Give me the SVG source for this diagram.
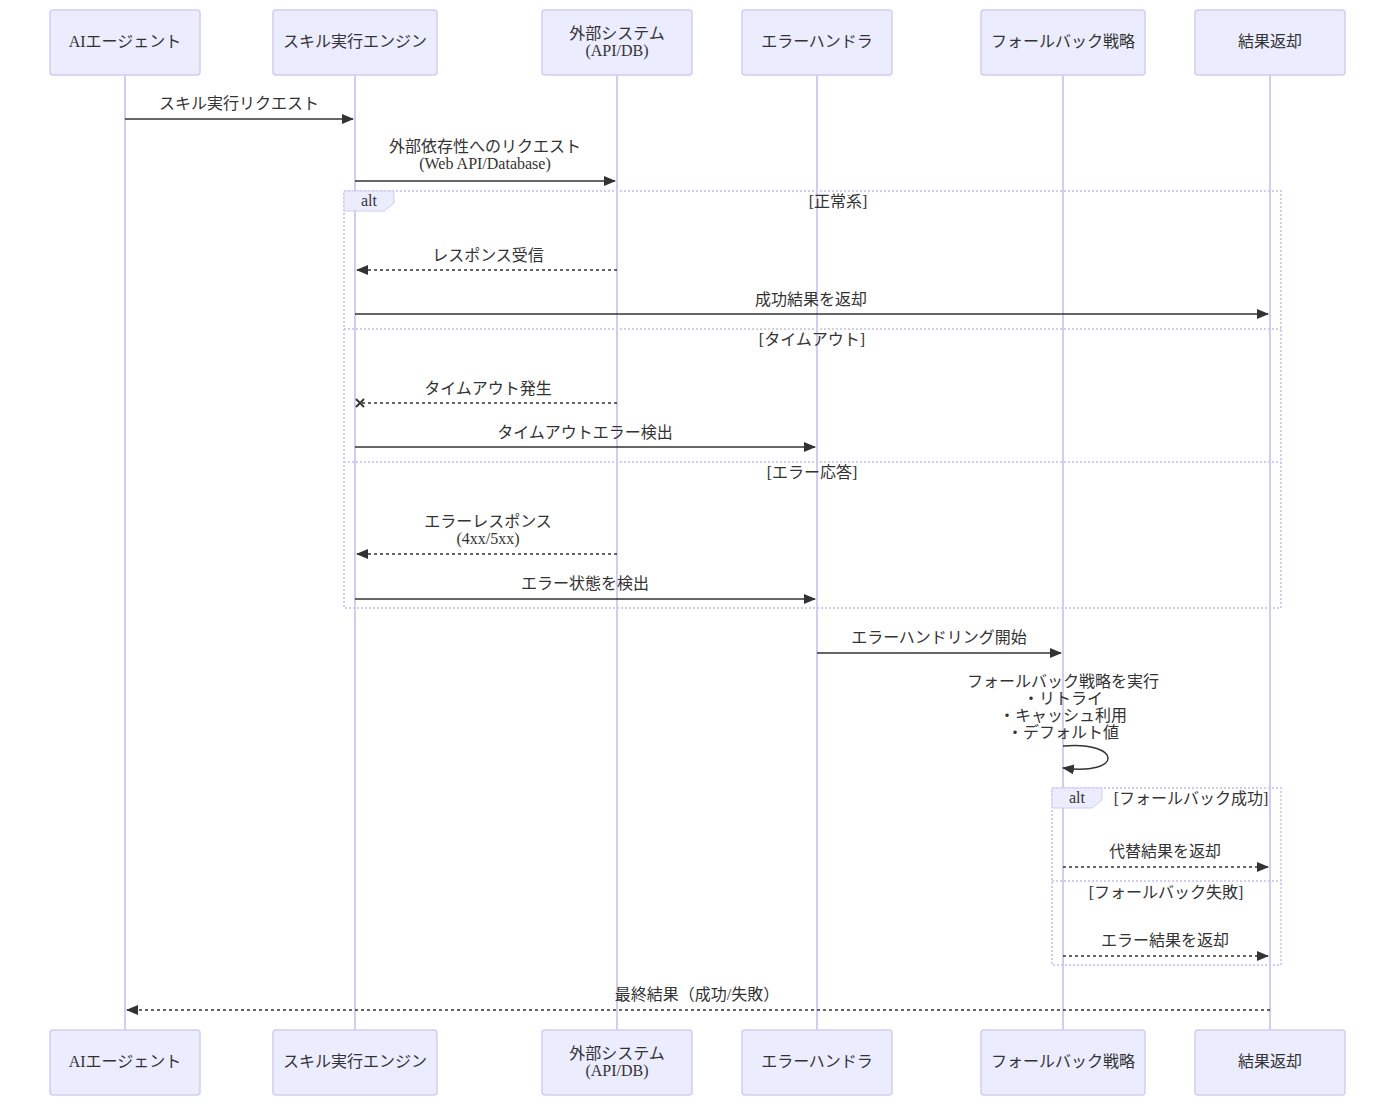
<svg xmlns="http://www.w3.org/2000/svg" width="1395" height="1106" viewBox="0 0 1395 1106">
<style>
text{font-family:"Liberation Serif","Noto Sans CJK JP",serif;font-size:16px;fill:#333;text-anchor:middle;dominant-baseline:middle}
.actor{fill:#ECECFF;stroke:#D3CCF2;stroke-width:1.5}
.life{stroke:#D3CCF2;stroke-width:2}
.msg{stroke:#333;stroke-width:1.5;fill:none}
.dash{stroke-dasharray:3,3}
.frame{fill:none;stroke:#D3CCF2;stroke-width:2;stroke-dasharray:2,2}
.lbl{fill:#ECECFF;stroke:#D3CCF2}
</style>
<defs>
<marker id="ah" viewBox="0 0 12 10" refX="11" refY="5" markerWidth="12" markerHeight="10" orient="auto" markerUnits="userSpaceOnUse"><path d="M0,0L12,5L0,10z" fill="#333"/></marker>
<marker id="cx" viewBox="0 0 10 10" refX="5" refY="5" markerWidth="10" markerHeight="10" orient="auto" markerUnits="userSpaceOnUse"><path d="M1,1L9,9M9,1L1,9" stroke="#333" stroke-width="1.8"/></marker>
</defs>
<g id="lifelines">
<line class="life" x1="125" y1="75" x2="125" y2="1030"/>
<line class="life" x1="355" y1="75" x2="355" y2="1030"/>
<line class="life" x1="617" y1="75" x2="617" y2="1030"/>
<line class="life" x1="817" y1="75" x2="817" y2="1030"/>
<line class="life" x1="1063" y1="75" x2="1063" y2="1030"/>
<line class="life" x1="1270" y1="75" x2="1270" y2="1030"/>
</g>
<g id="ai"><rect class="actor" x="50" y="10" width="150" height="65" rx="3"/><text x="125" y="43">AIエージェント</text><rect class="actor" x="50" y="1030" width="150" height="65" rx="3"/><text x="125" y="1063">AIエージェント</text></g>
<g id="skill"><rect class="actor" x="273" y="10" width="164" height="65" rx="3"/><text x="355" y="43">スキル実行エンジン</text><rect class="actor" x="273" y="1030" width="164" height="65" rx="3"/><text x="355" y="1063">スキル実行エンジン</text></g>
<g id="ext"><rect class="actor" x="542" y="10" width="150" height="65" rx="3"/><text x="617" y="35">外部システム</text><text x="617" y="52">(API/DB)</text><rect class="actor" x="542" y="1030" width="150" height="65" rx="3"/><text x="617" y="1055">外部システム</text><text x="617" y="1072">(API/DB)</text></g>
<g id="err"><rect class="actor" x="742" y="10" width="150" height="65" rx="3"/><text x="817" y="43">エラーハンドラ</text><rect class="actor" x="742" y="1030" width="150" height="65" rx="3"/><text x="817" y="1063">エラーハンドラ</text></g>
<g id="fb"><rect class="actor" x="981" y="10" width="164" height="65" rx="3"/><text x="1063" y="43">フォールバック戦略</text><rect class="actor" x="981" y="1030" width="164" height="65" rx="3"/><text x="1063" y="1063">フォールバック戦略</text></g>
<g id="res"><rect class="actor" x="1195" y="10" width="150" height="65" rx="3"/><text x="1270" y="43">結果返却</text><rect class="actor" x="1195" y="1030" width="150" height="65" rx="3"/><text x="1270" y="1063">結果返却</text></g>
<g id="frames">
<rect class="frame" x="344" y="191" width="937" height="417"/>
<path class="lbl" d="M344,191H394V203L384,211H344Z"/><text x="369" y="202">alt</text>
<text x="838" y="203">[正常系]</text>
<line class="frame" x1="344" y1="329" x2="1281" y2="329"/>
<text x="812" y="341">[タイムアウト]</text>
<line class="frame" x1="344" y1="462" x2="1281" y2="462"/>
<text x="812" y="474">[エラー応答]</text>
<rect class="frame" x="1052" y="788" width="229" height="177"/>
<path class="lbl" d="M1052,788H1102V800L1092,808H1052Z"/><text x="1077" y="799">alt</text>
<text x="1191" y="800">[フォールバック成功]</text>
<line class="frame" x1="1052" y1="881" x2="1281" y2="881"/>
<text x="1166" y="894">[フォールバック失敗]</text>
</g>
<g id="connectors">
<line class="msg" x1="125" y1="119" x2="353" y2="119" marker-end="url(#ah)"/><text x="239" y="105">スキル実行リクエスト</text>
<line class="msg" x1="355" y1="181" x2="615" y2="181" marker-end="url(#ah)"/><text x="485" y="148">外部依存性へのリクエスト</text><text x="485" y="165">(Web API/Database)</text>
<line class="msg dash" x1="617" y1="270" x2="357" y2="270" marker-end="url(#ah)"/><text x="488" y="257">レスポンス受信</text>
<line class="msg" x1="355" y1="314" x2="1268" y2="314" marker-end="url(#ah)"/><text x="811" y="301">成功結果を返却</text>
<line class="msg dash" x1="617" y1="403" x2="360" y2="403" marker-end="url(#cx)"/><text x="488" y="390">タイムアウト発生</text>
<line class="msg" x1="355" y1="447" x2="815" y2="447" marker-end="url(#ah)"/><text x="585" y="434">タイムアウトエラー検出</text>
<line class="msg dash" x1="617" y1="554" x2="357" y2="554" marker-end="url(#ah)"/><text x="488" y="523">エラーレスポンス</text><text x="488" y="540">(4xx/5xx)</text>
<line class="msg" x1="355" y1="599" x2="815" y2="599" marker-end="url(#ah)"/><text x="585" y="585">エラー状態を検出</text>
<line class="msg" x1="817" y1="653" x2="1061" y2="653" marker-end="url(#ah)"/><text x="939" y="639">エラーハンドリング開始</text>
<path class="msg" d="M1063,746C1123,741 1123,776 1063,768" marker-end="url(#ah)"/>
<text x="1063" y="683">フォールバック戦略を実行</text><text x="1063" y="700">・リトライ</text><text x="1063" y="717">・キャッシュ利用</text><text x="1063" y="734">・デフォルト値</text>
<line class="msg dash" x1="1063" y1="867" x2="1268" y2="867" marker-end="url(#ah)"/><text x="1165" y="853">代替結果を返却</text>
<line class="msg dash" x1="1063" y1="956" x2="1268" y2="956" marker-end="url(#ah)"/><text x="1165" y="942">エラー結果を返却</text>
<line class="msg dash" x1="1270" y1="1010" x2="127" y2="1010" marker-end="url(#ah)"/><text x="697" y="996">最終結果（成功/失敗）</text>
</g>
</svg>
